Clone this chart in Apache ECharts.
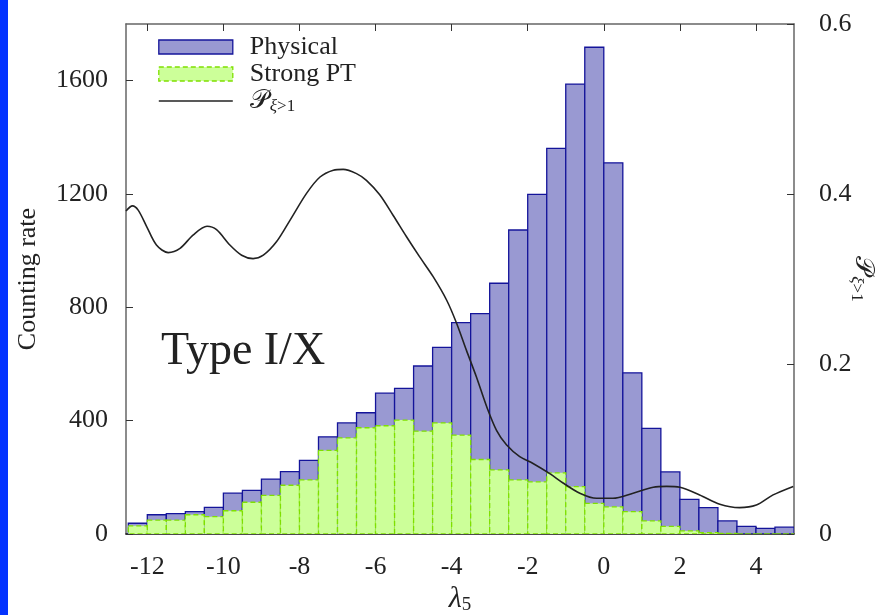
<!DOCTYPE html>
<html>
<head>
<meta charset="utf-8">
<script src="https://cdn.jsdelivr.net/npm/echarts@6/dist/echarts.min.js"></script>
<style>html,body{margin:0;padding:0;background:#fff;}#c{width:886px;height:615px;}</style>
</head>
<body>
<div id="c"></div>
<script>
// bin left/right edges (lambda_5)
const binLo = [-12.5,-12,-11.5,-11,-10.5,-10,-9.5,-9,-8.5,-8,-7.5,-7,-6.5,-6,-5.5,-5,-4.5,-4,-3.5,-3,-2.5,-2,-1.5,-1,-0.5,0,0.5,1,1.5,2,2.5,3,3.5,4,4.5];
const binHi = [-12,-11.5,-11,-10.5,-10,-9.5,-9,-8.5,-8,-7.5,-7,-6.5,-6,-5.5,-5,-4.5,-4,-3.5,-3,-2.5,-2,-1.5,-1,-0.5,0,0.5,1,1.5,2,2.5,3,3.5,4,4.5,5];
const physical = [38,68,72,79,94,144,154,194,220,260,343,392,428,497,514,593,659,746,778,885,1073,1199,1361,1588,1718,1310,569,373,219,122,93,46,27,20,24];
const strongPT = [29,49,49,68,61,82,112,136,172,191,295,339,375,382,402,363,392,349,263,226,191,184,216,167,108,96,79,46,27,11,5,2,0,0,0];
// probability curve
const pX = [-12.56,-12.39,-12.24,-12.02,-11.76,-11.45,-11.14,-10.79,-10.43,-10.18,-9.83,-9.52,-9.22,-8.95,-8.60,-8.25,-7.81,-7.46,-7.11,-6.85,-6.50,-6.24,-5.89,-5.54,-5.19,-4.84,-4.49,-4.13,-3.87,-3.61,-3.35,-3.08,-2.82,-2.56,-2.21,-1.86,-1.42,-1.07,-0.63,-0.19,0.24,0.77,1.30,1.65,2.00,2.52,3.05,3.57,4.01,4.45,4.98];
const pY = [0.380,0.386,0.381,0.362,0.340,0.331,0.336,0.352,0.362,0.358,0.340,0.328,0.324,0.328,0.344,0.369,0.401,0.420,0.428,0.429,0.424,0.416,0.399,0.375,0.350,0.326,0.303,0.275,0.248,0.216,0.185,0.150,0.122,0.105,0.091,0.083,0.071,0.060,0.048,0.042,0.042,0.048,0.055,0.056,0.055,0.046,0.035,0.031,0.034,0.046,0.056];
// tick labels
const xTicks = [-12,-10,-8,-6,-4,-2,0,2,4];
const yLeftTicks = [0,400,800,1200,1600];
const yRightTicks = [0,0.2,0.4,0.6];

const FONT = '"Liberation Serif","DejaVu Serif",serif';
const BLUE_FILL = '#9999d2', BLUE_LINE = '#14149a';
const GREEN_FILL = '#ccff99', GREEN_LINE = '#7fe000';

const blueData = binLo.map((lo, i) => [lo, binHi[i], physical[i]]);
const greenData = binLo.map((lo, i) => [lo, binHi[i], strongPT[i]]);
const lineData = pX.map((x, i) => [x, pY[i]]);

function makeRender(fill, stroke, dash) {
  return function (params, api) {
    const p0 = api.coord([api.value(0), api.value(2)]);
    const p1 = api.coord([api.value(1), 0]);
    return {
      type: 'rect',
      shape: { x: p0[0], y: p0[1], width: p1[0] - p0[0], height: p1[1] - p0[1] },
      style: { fill: fill, stroke: stroke, lineWidth: 1.3, lineDash: dash ? [5, 3] : null }
    };
  };
}

const chart = echarts.init(document.getElementById('c'), null, { renderer: 'canvas' });
const frame = { color: '#666', width: 1.5 };
const subRich = {
  p: { fontFamily: FONT, fontSize: 26, color: '#222' },
  x: { fontFamily: FONT, fontSize: 17, fontStyle: 'italic', color: '#222', padding: [12, 0, 0, 1] },
  s: { fontFamily: FONT, fontSize: 17, color: '#222', padding: [12, 0, 0, 0] }
};
chart.setOption({
  animation: false,
  backgroundColor: '#fff',
  grid: { left: 126, right: 92, top: 24, bottom: 81, outerBoundsMode: 'none', containLabel: false },
  graphic: [
    { type: 'rect', left: 0, top: 0, shape: { width: 8, height: 615 }, style: { fill: '#0433ff' } },
    { type: 'text', left: 161, top: 329, style: { text: 'Type I/X', font: '46px ' + FONT, fill: '#222' } }
  ],
  legend: {
    orient: 'vertical', left: 158, top: 34, padding: 0, itemWidth: 74, itemHeight: 14, itemGap: 1,
    textStyle: { fontFamily: FONT, fontSize: 26, color: '#222', lineHeight: 21, padding: [0, 0, 0, 12], rich: subRich },
    formatter: function (n) { return n === 'Pxi' ? '{p|𝒫}{x|ξ}{s|>1}' : n; },
    data: [
      { name: 'Physical', icon: 'rect', itemStyle: { color: BLUE_FILL, borderColor: BLUE_LINE, borderWidth: 1.3 } },
      { name: 'Strong PT', icon: 'rect', itemStyle: { color: GREEN_FILL, borderColor: GREEN_LINE, borderWidth: 1.3, borderType: [5, 3] } },
      { name: 'Pxi', itemStyle: { color: 'rgba(0,0,0,0)', borderWidth: 0, opacity: 0 }, lineStyle: { color: '#222', width: 1.6 } }
    ]
  },
  xAxis: [
    { type: 'value', min: -12.56, max: 5, position: 'bottom',
      axisLine: { onZero: false, lineStyle: { color: '#111', width: 1.5 } },
      axisTick: { inside: true, length: 7, customValues: xTicks, lineStyle: { color: '#333' } },
      axisLabel: { customValues: xTicks, fontFamily: FONT, fontSize: 26, color: '#222', margin: 20,
        formatter: function (v) { return String(v); } },
      splitLine: { show: false },
      name: '{l|λ}{s|5}', nameLocation: 'middle', nameGap: 50, nameMoveOverlap: false,
      nameTextStyle: { rich: { l: { fontFamily: FONT, fontSize: 30, fontStyle: 'italic', color: '#222' },
                                s: { fontFamily: FONT, fontSize: 19, color: '#222', padding: [12, 0, 0, 0] } } } },
    { type: 'value', min: -12.56, max: 5, position: 'top',
      axisLine: { onZero: false, lineStyle: frame },
      axisTick: { inside: true, length: 7, customValues: xTicks, lineStyle: { color: '#333' } },
      axisLabel: { show: false }, splitLine: { show: false } }
  ],
  yAxis: [
    { type: 'value', min: 0, max: 1800, position: 'left',
      axisLine: { show: true, onZero: false, lineStyle: frame },
      axisTick: { show: true, inside: true, length: 7, customValues: yLeftTicks, lineStyle: { color: '#333' } },
      axisLabel: { customValues: yLeftTicks, fontFamily: FONT, fontSize: 26, color: '#222', margin: 18,
        formatter: function (v) { return String(v); } },
      splitLine: { show: false },
      name: 'Counting rate', nameLocation: 'middle', nameGap: 85, nameMoveOverlap: false,
      nameTextStyle: { fontFamily: FONT, fontSize: 26, color: '#222' } },
    { type: 'value', min: 0, max: 0.6, interval: 0.2, position: 'right',
      axisLine: { show: true, onZero: false, lineStyle: frame },
      axisTick: { show: true, inside: true, length: 7, lineStyle: { color: '#333' } },
      axisLabel: { customValues: yRightTicks, fontFamily: FONT, fontSize: 26, color: '#222', margin: 25,
        formatter: function (v) { return v === 0 ? '0' : v.toFixed(1); } },
      splitLine: { show: false },
      name: '{p|𝒫}{x|ξ}{s|>1}', nameLocation: 'middle', nameGap: 54, nameRotate: -90, nameMoveOverlap: false,
      nameTextStyle: { rich: subRich } }
  ],
  series: [
    { name: 'Physical', type: 'custom', xAxisIndex: 0, yAxisIndex: 0, renderItem: makeRender(BLUE_FILL, BLUE_LINE, false),
      encode: { x: [0, 1], y: 2 }, data: blueData, itemStyle: { color: BLUE_FILL }, clip: true },
    { name: 'Strong PT', type: 'custom', xAxisIndex: 0, yAxisIndex: 0, renderItem: makeRender(GREEN_FILL, GREEN_LINE, true),
      encode: { x: [0, 1], y: 2 }, data: greenData, itemStyle: { color: GREEN_FILL }, clip: true },
    { name: 'Pxi', type: 'line', xAxisIndex: 0, yAxisIndex: 1, data: lineData, smooth: 0.3, symbol: 'none',
      lineStyle: { color: '#222', width: 1.6 }, itemStyle: { color: '#222' }, z: 5 }
  ]
});
</script>
</body>
</html>
